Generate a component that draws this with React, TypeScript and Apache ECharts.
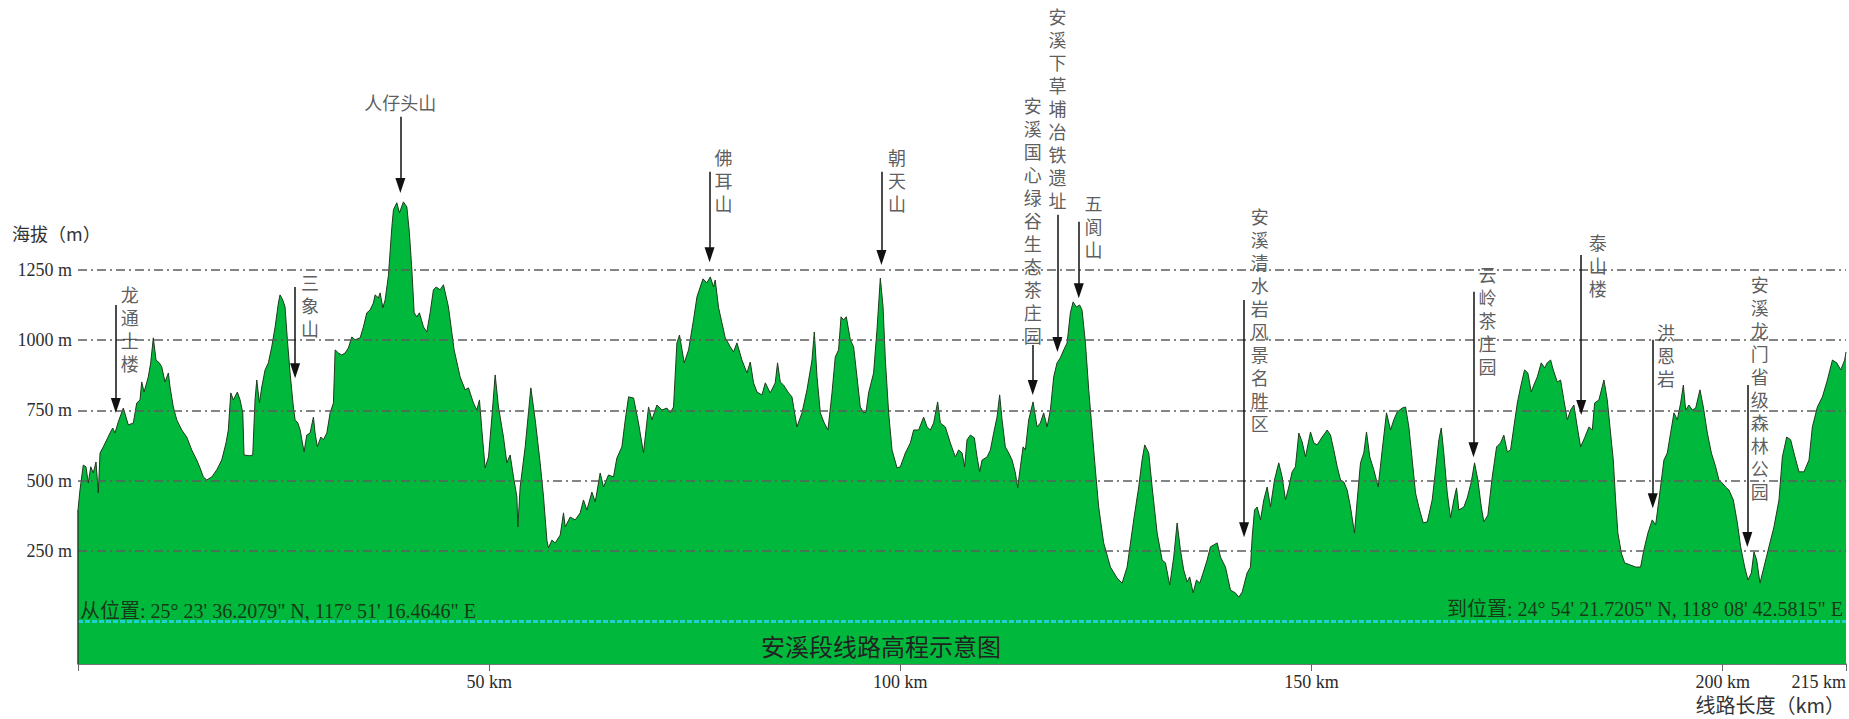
import React, { useEffect, useRef } from 'react';
import * as echarts from 'echarts';

// ---- profile data (km along the route, elevation in m) ----
const distanceKm = [
  0, 0.24, 0.64, 0.97, 1.25, 1.55, 1.86, 2.19, 2.47, 2.68, 3.08, 3.89, 4.22, 4.5, 4.9, 5.51, 6.12, 6.73, 7.14, 7.54,
  7.75, 8.03, 8.55, 8.84, 9.16, 9.49, 9.89, 10.18, 10.58, 10.99, 11.19, 11.59, 12.01, 12.62, 13.22, 13.83, 14.44, 14.84, 15.24, 15.66,
  16.27, 16.87, 17.48, 18.0, 18.28, 18.58, 18.89, 19.38, 19.71, 20.04, 20.19, 20.92, 21.25, 21.53, 21.74, 22.06, 22.35, 22.75, 23.15, 23.56,
  23.97, 24.37, 24.57, 24.9, 25.18, 25.46, 25.79, 26.19, 26.4, 26.73, 27.01, 27.49, 27.82, 28.22, 28.63, 28.83, 29.11, 29.53, 29.84, 30.26,
  30.66, 31.06, 31.27, 31.67, 32.08, 32.48, 32.88, 33.3, 33.7, 34.31, 34.71, 35.12, 35.52, 35.92, 36.13, 36.53, 36.74, 37.07, 37.35, 37.75,
  38.16, 38.36, 38.77, 39.09, 39.57, 39.99, 40.3, 40.6, 40.88, 41.2, 41.52, 42.01, 42.42, 42.82, 43.22, 43.55, 44.04, 44.44, 45.05, 45.74,
  46.47, 47.08, 47.48, 48.09, 48.5, 48.82, 49.11, 49.51, 49.92, 50.33, 50.73, 51.13, 51.74, 52.15, 52.55, 52.96, 53.37, 53.49, 53.77, 54.38,
  55.07, 55.6, 56.2, 56.61, 57.02, 57.21, 57.63, 58.03, 58.64, 59.04, 59.25, 59.85, 60.46, 61.07, 61.47, 61.89, 62.49, 62.9, 63.5, 63.91,
  64.51, 65.12, 65.53, 66.14, 66.55, 66.95, 67.56, 68.16, 68.77, 69.38, 69.79, 70.4, 71.01, 71.62, 72.02, 72.42, 72.83, 73.15, 73.72, 74.25,
  74.85, 75.27, 76.0, 76.48, 76.89, 77.29, 77.49, 77.9, 78.71, 79.32, 79.72, 80.13, 80.74, 81.35, 81.75, 82.15, 82.57, 83.18, 83.58, 84.18,
  84.79, 85.07, 85.4, 85.8, 86.41, 86.82, 87.43, 88.04, 88.65, 89.26, 89.54, 89.87, 90.27, 90.75, 91.2, 91.69, 92.09, 92.49, 92.79, 93.1,
  93.43, 93.92, 94.32, 94.73, 95.13, 95.54, 95.83, 96.14, 96.75, 97.16, 97.57, 97.9, 98.18, 98.58, 98.99, 99.6, 100.0, 100.61, 101.22, 101.62,
  102.23, 102.83, 103.25, 103.65, 104.05, 104.54, 104.87, 105.47, 106.08, 106.69, 107.09, 107.51, 107.82, 108.11, 108.52, 109.0, 109.33, 109.65, 109.94, 110.55,
  110.95, 111.35, 111.76, 112.08, 112.37, 112.77, 113.18, 113.59, 113.99, 114.27, 114.6, 114.93, 115.21, 115.61, 116.14, 116.63, 117.03, 117.43, 117.85, 118.25,
  118.65, 119.06, 119.46, 119.87, 120.28, 120.68, 121.01, 121.41, 121.81, 122.1, 122.51, 122.91, 123.32, 123.72, 124.12, 124.73, 125.55, 126.36, 126.97, 127.58,
  128.38, 128.99, 129.4, 129.72, 130.21, 130.62, 131.23, 131.84, 132.24, 132.76, 133.25, 133.66, 134.06, 134.46, 134.88, 135.19, 135.61, 136.01, 136.41, 136.82,
  137.31, 137.71, 138.11, 138.53, 138.93, 139.54, 140.15, 140.75, 141.16, 141.57, 142.17, 142.58, 142.79, 143.07, 143.39, 143.8, 144.2, 144.61, 145.01, 145.5,
  146.02, 146.43, 146.84, 147.24, 147.65, 148.05, 148.46, 148.87, 149.27, 149.88, 150.28, 150.69, 151.3, 151.91, 152.31, 152.71, 153.13, 153.53, 153.93, 154.34,
  154.74, 155.23, 155.56, 155.96, 156.36, 156.69, 157.09, 157.58, 158.11, 158.6, 159.12, 159.61, 160.01, 160.42, 161.03, 161.44, 161.84, 162.25, 162.65, 163.05,
  163.59, 164.08, 164.68, 165.09, 165.49, 165.78, 166.09, 166.51, 166.91, 167.31, 167.64, 167.92, 168.53, 168.94, 169.43, 169.83, 170.23, 170.65, 170.96, 171.45,
  171.98, 172.51, 172.99, 173.39, 173.81, 174.21, 174.61, 175.03, 175.43, 175.91, 176.31, 176.73, 177.04, 177.46, 177.94, 178.35, 178.67, 179.08, 179.4, 179.89,
  180.29, 180.69, 181.11, 181.51, 181.91, 182.32, 182.73, 183.21, 183.74, 184.15, 184.43, 184.95, 185.56, 185.97, 186.37, 186.7, 186.98, 187.26, 187.68, 188.08,
  188.81, 189.42, 190.02, 190.42, 190.91, 191.44, 191.85, 192.25, 192.86, 193.27, 193.67, 194.08, 194.49, 194.89, 195.22, 195.5, 195.9, 196.31, 196.72, 197.24,
  197.65, 198.14, 198.63, 199.15, 199.55, 199.96, 200.36, 200.77, 201.3, 201.79, 202.19, 202.68, 203.08, 203.49, 203.81, 204.14, 204.54, 205.02, 205.63, 206.24,
  206.85, 207.26, 207.79, 208.27, 208.67, 209.28, 209.89, 210.5, 210.91, 211.52, 212.13, 212.74, 213.35, 213.87, 214.36, 214.84, 215.0,
];

const elevationM = [
  395, 466, 555, 549, 491, 549, 527, 566, 456, 598, 620, 669, 687, 669, 709, 758, 698, 705, 776, 787,
  851, 815, 869, 919, 1008, 929, 919, 905, 851, 883, 833, 762, 716, 680, 655, 609, 573, 545, 513, 502,
  513, 538, 573, 634, 680, 812, 787, 815, 787, 741, 591, 588, 591, 787, 858, 776, 833, 894, 919, 976,
  1047, 1132, 1161, 1143, 1118, 1001, 883, 762, 716, 705, 680, 602, 662, 669, 726, 669, 620, 655, 645, 669,
  741, 776, 965, 954, 947, 954, 972, 1011, 1001, 1008, 1047, 1097, 1107, 1132, 1161, 1150, 1168, 1115, 1143, 1230,
  1400, 1464, 1489, 1453, 1492, 1474, 1382, 1250, 1097, 1083, 1097, 1047, 1029, 1097, 1179, 1189, 1179, 1197, 1118, 965,
  869, 823, 830, 776, 751, 787, 680, 545, 584, 726, 876, 762, 655, 563, 591, 513, 442, 335, 477, 620,
  830, 716, 563, 442, 288, 260, 288, 278, 306, 385, 335, 370, 360, 385, 431, 395, 459, 424, 527, 477,
  520, 513, 580, 620, 716, 798, 794, 705, 598, 762, 716, 769, 751, 758, 741, 762, 990, 1018, 919, 965,
  1072, 1154, 1218, 1204, 1225, 1189, 1214, 1115, 1008, 976, 958, 990, 929, 883, 922, 848, 815, 805, 848, 812,
  848, 919, 851, 840, 812, 798, 691, 741, 823, 929, 1029, 869, 741, 705, 680, 812, 940, 965, 1083, 1072,
  1083, 1001, 976, 869, 762, 741, 744, 812, 883, 1036, 1221, 1118, 929, 741, 609, 545, 549, 598, 634, 680,
  680, 726, 691, 680, 705, 780, 705, 691, 634, 584, 609, 598, 549, 645, 662, 652, 584, 531, 573, 584,
  609, 669, 726, 805, 716, 620, 598, 573, 527, 474, 549, 620, 609, 716, 780, 691, 705, 741, 691, 751,
  869, 919, 937, 965, 990, 1097, 1136, 1118, 1125, 1107, 990, 823, 680, 538, 406, 278, 192, 153, 135, 192,
  360, 477, 573, 627, 598, 477, 313, 217, 207, 128, 228, 349, 253, 182, 139, 157, 100, 146, 135, 171,
  217, 264, 271, 278, 228, 192, 110, 100, 85, 103, 171, 192, 299, 395, 406, 360, 431, 477, 406, 502,
  563, 513, 431, 477, 531, 549, 669, 637, 584, 673, 634, 627, 655, 680, 662, 609, 549, 502, 495, 466,
  406, 313, 431, 563, 598, 673, 584, 538, 477, 609, 741, 680, 716, 744, 758, 762, 691, 573, 456, 406,
  349, 353, 431, 538, 645, 687, 598, 456, 367, 431, 474, 395, 406, 438, 495, 563, 502, 406, 353, 377,
  513, 620, 634, 662, 602, 609, 691, 776, 833, 894, 883, 815, 840, 869, 919, 901, 919, 929, 894, 851,
  858, 787, 716, 751, 769, 691, 620, 652, 691, 680, 776, 787, 858, 787, 669, 573, 431, 313, 242, 207,
  199, 192, 192, 253, 313, 360, 342, 431, 573, 598, 669, 741, 716, 776, 840, 751, 769, 751, 758, 823,
  762, 669, 598, 549, 502, 491, 477, 466, 431, 349, 264, 192, 146, 171, 246, 217, 135, 192, 264, 335,
  431, 584, 655, 645, 598, 531, 531, 573, 691, 762, 798, 858, 929, 919, 894, 929, 958,
];

// ---- axes ----
const gridLevelsM = [250, 500, 750, 1000, 1250];
const seaLevelM = 0;
const xTickKm = [0, 50, 100, 150, 200, 215];
const xLabelKm = [50, 100, 150, 200, 215];
const Y_MIN = -153;
const Y_MAX = 2200;

// ---- annotations (landmarks) ----
const annotationNames = [
  '龙通土楼', '三象山', '人仔头山', '佛耳山', '朝天山', '安溪国心绿谷生态茶庄园', '安溪下草埔冶铁遗址',
  '五阆山', '安溪清水岩风景名胜区', '云岭茶庄园', '泰山楼', '洪恩岩', '安溪龙门省级森林公园',
];
const arrowKm = [4.6, 26.4, 39.2, 76.8, 97.7, 116.1, 119.1, 121.7, 141.8, 169.7, 182.8, 191.5, 203.0];
const arrowFromM = [1125, 1189, 1795, 1599, 1599, 983, 1446, 1421, 1143, 1172, 1303, 1001, 840];
const arrowToM = [767, 891, 1550, 1304, 1294, 831, 984, 1176, 325, 610, 760, 428, 290];
const labelKm = [6.3, 28.2, 39.2, 78.5, 99.6, 116.1, 119.1, 123.5, 143.7, 171.4, 184.8, 193.1, 204.5];
const labelM = [1040, 1125, 1848, 1570, 1570, 1428, 1825, 1405, 1075, 1072, 1268, 947, 833];
const labelVertical = [true, true, false, true, true, true, true, true, true, true, true, true, true];

// ---- texts ----
const chartTitle = '安溪段线路高程示意图';
const yAxisTitle = '海拔（m）';
const xAxisTitle = '线路长度（km）';
const startText = '从位置: 25° 23\' 36.2079" N, 117° 51\' 16.4646" E';
const endText = '到位置: 24° 54\' 21.7205" N, 118° 08\' 42.5815" E';

const SERIF = "'Liberation Serif', 'Noto Sans CJK SC', serif";
const CJK = "'Noto Sans CJK SC', sans-serif";

export default function App() {
  const ref = useRef<HTMLDivElement>(null);

  useEffect(() => {
    if (!ref.current) return;
    const chart = echarts.init(ref.current, null, { renderer: 'svg' });

    const profile = distanceKm.map((d, i) => [d, elevationM[i]]);

    const gridLines: any[] = gridLevelsM.map((v) => ({
      yAxis: v,
      label: {
        show: true,
        position: 'start',
        distance: 6,
        formatter: `${v} m`,
        color: '#2e2e2e',
        fontSize: 18,
        fontFamily: SERIF,
      },
      lineStyle: { color: '#5c5c5c', width: 1.6, type: [9, 4, 2, 4] },
    }));
    gridLines.push({
      yAxis: seaLevelM,
      label: { show: false },
      lineStyle: { color: '#1fcfd2', width: 3, type: [5, 2] },
    });
    gridLines.push([
      { coord: [distanceKm[0], Y_MIN], label: { show: false }, lineStyle: { color: '#24462a', width: 1.5, type: 'solid' } },
      { coord: [distanceKm[0], elevationM[0]] },
    ]);

    const arrows = annotationNames.map((n, i) => [
      { coord: [arrowKm[i], arrowFromM[i]], symbol: 'none' },
      { coord: [arrowKm[i], arrowToM[i]], symbol: 'triangle', symbolSize: [10, 15] },
    ]);

    const labels = annotationNames.map((n, i) => ({
      name: labelVertical[i] ? n.split('').join('\n') : n,
      value: [labelKm[i], labelM[i]],
    }));

    const option: any = {
      animation: false,
      backgroundColor: '#ffffff',
      grid: { left: 78, right: 3, top: 3, bottom: 55, containLabel: false },
      xAxis: {
        type: 'value',
        min: 0,
        max: 215,
        axisLine: { show: true, onZero: false, lineStyle: { color: '#4a4a4a', width: 1.5 } },
        axisTick: { show: true, customValues: xTickKm, length: 7, lineStyle: { color: '#666', width: 1 } },
        axisLabel: {
          customValues: xLabelKm,
          formatter: '{value} km',
          margin: 9,
          fontSize: 18,
          color: '#2a2a2a',
          fontFamily: SERIF,
          alignMaxLabel: 'right',
        },
        splitLine: { show: false },
      },
      yAxis: { type: 'value', min: Y_MIN, max: Y_MAX, show: false, splitLine: { show: false } },
      series: [
        {
          type: 'line',
          data: profile,
          symbol: 'none',
          smooth: false,
          silent: true,
          lineStyle: { color: '#1d3b1d', width: 1 },
          areaStyle: { color: '#00b93c', opacity: 1, origin: 'start' },
          z: 2,
          markLine: {
            silent: true,
            symbol: ['none', 'none'],
            data: gridLines,
          },
        },
        {
          type: 'scatter',
          data: labels,
          symbolSize: 1,
          silent: true,
          itemStyle: { color: 'rgba(0,0,0,0)' },
          z: 5,
          label: {
            show: true,
            position: 'inside',
            formatter: (p: any) => p.name,
            fontSize: 18,
            lineHeight: 23,
            color: '#333333',
            fontFamily: CJK,
          },
          markLine: {
            silent: true,
            symbol: ['none', 'triangle'],
            label: { show: false },
            lineStyle: { color: '#111111', width: 1.5, type: 'solid' },
            data: arrows,
          },
        },
      ],
      graphic: [
        {
          type: 'text', x: 12, y: 233, silent: true,
          style: { text: yAxisTitle, fontSize: 18, fill: '#333', fontFamily: CJK, verticalAlign: 'middle', align: 'left' },
        },
        {
          type: 'text', x: 881, y: 645, silent: true, z: 100,
          style: { text: chartTitle, fontSize: 24, fill: '#222', fontFamily: CJK, verticalAlign: 'middle', align: 'center' },
        },
        {
          type: 'text', x: 80, y: 611, silent: true, z: 100,
          style: { text: startText, fontSize: 20, fill: '#163a18', fontFamily: SERIF, verticalAlign: 'middle', align: 'left' },
        },
        {
          type: 'text', x: 1843, y: 609, silent: true, z: 100,
          style: { text: endText, fontSize: 20, fill: '#163a18', fontFamily: SERIF, verticalAlign: 'middle', align: 'right' },
        },
        {
          type: 'text', x: 1845, y: 704, silent: true,
          style: { text: xAxisTitle, fontSize: 20, fill: '#333', fontFamily: CJK, verticalAlign: 'middle', align: 'right' },
        },
      ],
    };

    chart.setOption(option);
    return () => chart.dispose();
  }, []);

  return (
    <div
      ref={ref}
      style={{ position: 'absolute', left: 0, top: 0, width: 1849, height: 719, background: '#fff' }}
    />
  );
}
